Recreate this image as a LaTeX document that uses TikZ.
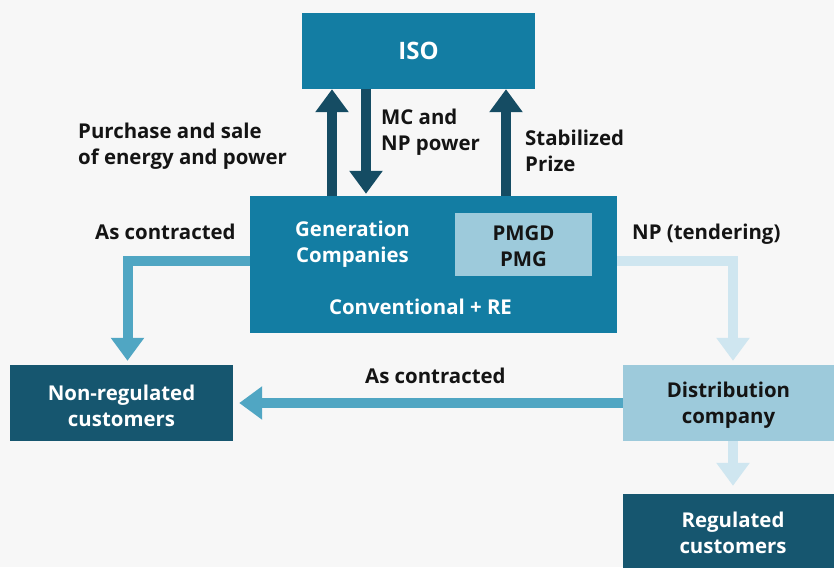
\documentclass[tikz,border=0pt]{standalone}
\usepackage{fontspec}
\setmainfont{Open Sans}[BoldFont={* Bold}]
\usetikzlibrary{arrows.meta}
\definecolor{bg}{RGB}{247,247,247}
\definecolor{midblue}{RGB}{19,125,163}
\definecolor{darkbox}{RGB}{22,86,111}
\definecolor{lightbox}{RGB}{157,202,219}
\definecolor{darkarrow}{RGB}{21,76,99}
\definecolor{medarrow}{RGB}{80,166,195}
\definecolor{lightarrow}{RGB}{207,230,240}
\definecolor{txt}{RGB}{20,20,20}
\tikzset{
  box/.style={rectangle, inner sep=0pt, align=center, font=\fontsize{20.4}{26}\selectfont\bfseries},
  boxtext/.style={inner sep=0pt, align=center, font=\fontsize{20.4}{26}\selectfont\bfseries},
  lbl/.style={inner sep=0pt, align=left, text=txt, font=\fontsize{20.4}{26}\selectfont\bfseries},
  fat/.style={line width=10pt, line cap=butt, line join=miter, -{Triangle[length=23pt,width=32pt]}},
}
\begin{document}
\begin{tikzpicture}[x=1pt,y=-1pt]
\fill[bg] (0,0) rectangle (834,567);
\useasboundingbox (0,0) rectangle (834,567);
\clip (0,0) rectangle (834,567);
% boxes
\node[box, fill=midblue, text=white, minimum width=233pt, minimum height=76pt, font=\fontsize{24}{28}\selectfont\bfseries] (iso) at (418.5,51) {ISO};
\node[box, fill=midblue, minimum width=367pt, minimum height=137pt] (gen) at (433.5,264.5) {};
\node[box, fill=lightbox, minimum width=137pt, minimum height=63pt] (pmgd) at (523.5,244.5) {};
\node[boxtext, text=txt] (pmgdtxt) at (523.5,246.5) {PMGD\\PMG};
\node[boxtext, text=white] (gentxt) at (352.5,244) {Generation\\Companies};
\node[boxtext, text=white] (conv) at (420.5,306.5) {Conventional + RE};
\node[box, fill=darkbox, minimum width=223pt, minimum height=76pt] (nonreg) at (121.5,403) {};
\node[boxtext, text=white] (nonregtxt) at (121.5,406) {Non-regulated\\customers};
\node[box, fill=lightbox, minimum width=211pt, minimum height=76pt] (dist) at (728.5,403) {};
\node[boxtext, text=txt] (disttxt) at (728.5,405) {Distribution\\company};
\node[box, fill=darkbox, minimum width=211pt, minimum height=76pt] (reg) at (728.5,532) {};
\node[boxtext, text=white] (regtxt) at (733,533) {Regulated\\customers};
% helper coordinates
\coordinate (xa) at (332,0);
\coordinate (xb) at (366,0);
\coordinate (xc) at (506,0);
\coordinate (ly) at (0,261);
\coordinate (lx) at (127.5,0);
\coordinate (rx) at (733,0);
\coordinate (cl) at (lx |- ly);
\coordinate (cr) at (rx |- ly);
% arrows
\draw[fat, darkarrow] (gen.north -| xa) -- (iso.south -| xa);
\draw[fat, darkarrow, shorten >=2pt] (iso.south -| xb) -- (gen.north -| xb);
\draw[fat, darkarrow] (gen.north -| xc) -- (iso.south -| xc);
\draw[fat, medarrow, shorten >=4pt] (gen.west |- ly) -- (cl) -- (nonreg.north -| lx);
\draw[fat, lightarrow, shorten >=4pt] (gen.east |- ly) -- (cr) -- (dist.north -| rx);
\draw[fat, medarrow, shorten >=6pt] (dist.west) -- (nonreg.east);
\draw[fat, lightarrow, shorten >=8pt] (dist.south -| rx) -- (reg.north -| rx);
% labels
\node[lbl, anchor=west] (l1) at (78,146) {Purchase and sale\\of energy and power};
\node[lbl, anchor=west] (l2) at (381,132) {MC and\\NP power};
\node[lbl, anchor=west] (l3) at (525,150.5) {Stabilized\\Prize};
\node[lbl, anchor=west] (l4) at (95,232) {As contracted};
\node[lbl, anchor=west] (l5) at (632,234) {NP (tendering)};
\node[lbl, anchor=west] (l6) at (365,376) {As contracted};
\end{tikzpicture}
\end{document}
